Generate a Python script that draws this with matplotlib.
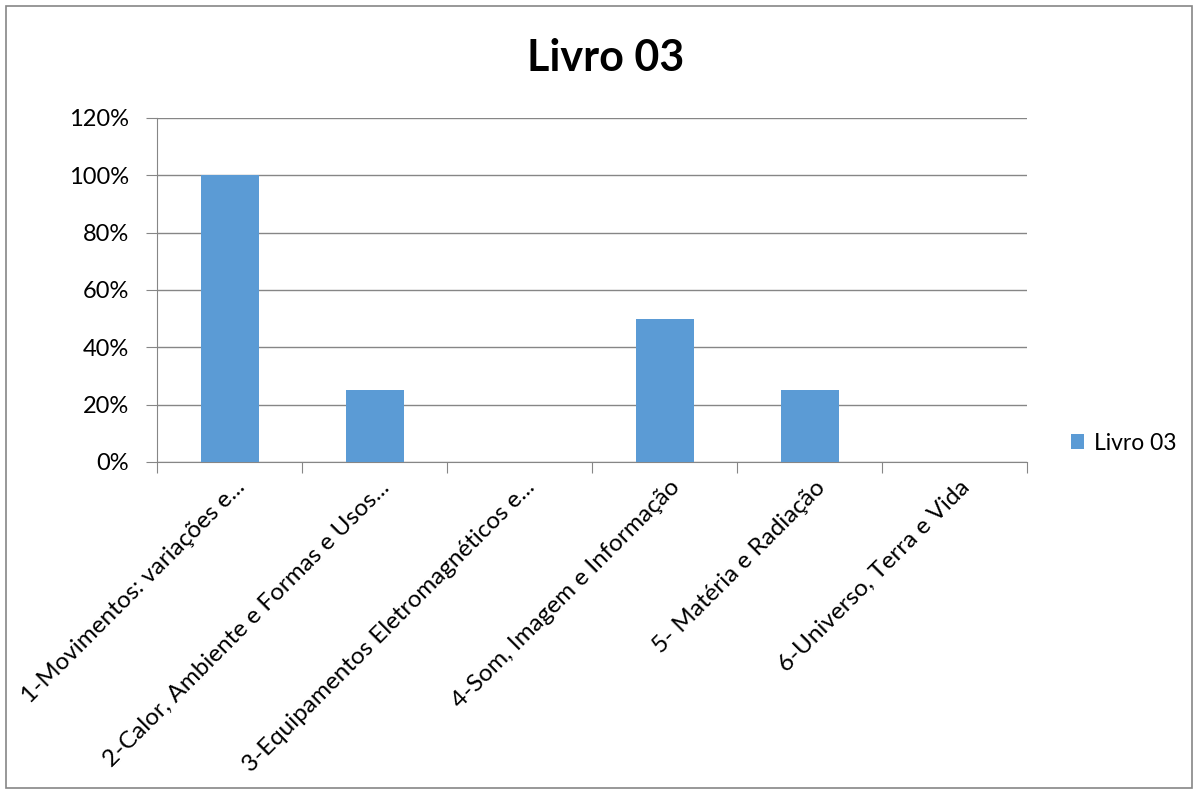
import matplotlib.pyplot as plt
import matplotlib.transforms as mtransforms
from matplotlib.patches import Rectangle

categorias = ["1-Movimentos: variações e...",
              "2-Calor, Ambiente e Formas e Usos...",
              "3-Equipamentos Eletromagnéticos e...",
              "4-Som, Imagem e Informação",
              "5- Matéria e Radiação",
              "6-Universo, Terra e Vida"]
valores = [1.00, 0.25, 0.0, 0.50, 0.25, 0.0]
yticks = [0, 0.2, 0.4, 0.6, 0.8, 1.0, 1.2]
serie = "Livro 03"

plt.rcParams['font.family'] = ['Lato', 'DejaVu Sans']
cor = "#5B9BD5"
cinza = "#868686"

fig = plt.figure(figsize=(12, 7.94), dpi=100)
ax = fig.add_axes([157/1200, 332/794, 870/1200, 344/794])

x = list(range(len(categorias)))
ax.bar(x, valores, width=0.4, color=cor, label=serie, zorder=3)

ax.set_xlim(-0.5, len(categorias) - 0.5)
ax.set_ylim(0, 1.2)
ax.set_yticks(yticks)
ax.set_yticklabels([f"{int(round(v*100))}%" for v in yticks], fontsize=17)
ax.yaxis.grid(True, color=cinza, linewidth=1, zorder=0)

for s in ["top", "right"]:
    ax.spines[s].set_visible(False)
ax.spines["left"].set_color(cinza)
ax.spines["bottom"].set_color(cinza)
ax.tick_params(axis="y", length=8, color=cinza, pad=12)
ax.tick_params(axis="x", length=8, color=cinza)

# ticks entre categorias
ax.set_xticks([i - 0.5 for i in range(len(categorias) + 1)])
ax.set_xticklabels([])
trans = mtransforms.blended_transform_factory(ax.transData, ax.transAxes) + \
    mtransforms.ScaledTranslation(12/100, -22/100, fig.dpi_scale_trans)
for i, c in enumerate(categorias):
    ax.text(i, 0, c, rotation=45, ha="right", va="center", rotation_mode="anchor",
            fontsize=17.5, transform=trans)

fig.text(606/1200, 1 - 58/794, "Livro 03", ha="center", va="center", fontsize=31, fontweight="bold")

leg = fig.legend(loc="center left", bbox_to_anchor=(1050/1200, 1 - 443/794), frameon=False,
                 fontsize=16.5, handlelength=0.6, handleheight=0.6, handletextpad=0.4)

fig.patches.append(Rectangle((6/1200, 6/794), 1186/1200, 782/794, transform=fig.transFigure,
                             fill=False, edgecolor=cinza, linewidth=1.2))

fig.savefig("out.png", dpi=100)
